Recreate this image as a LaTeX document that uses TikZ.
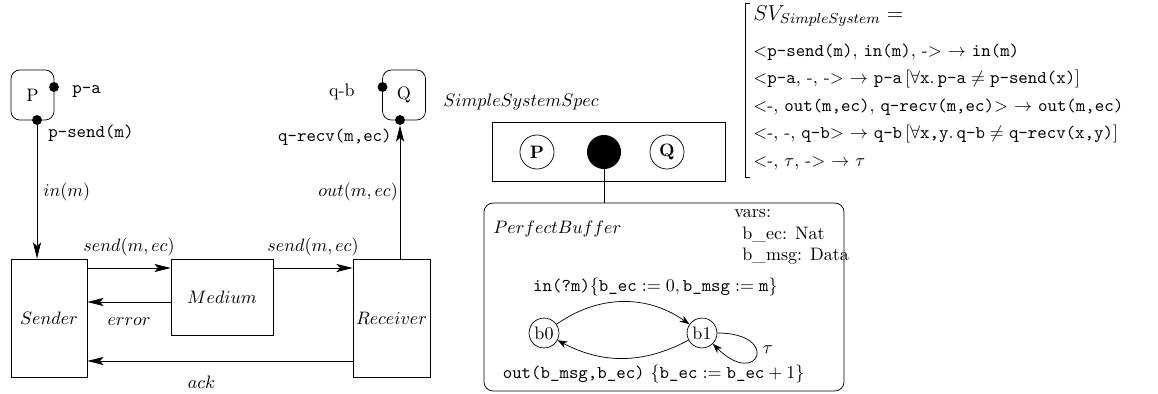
\documentclass[tikz,border=0pt]{standalone}
\usepackage{amsmath}
\usetikzlibrary{positioning,arrows.meta}

\tikzset{
    box/.style={draw, inner sep=0pt},
    proc/.style={draw, rounded corners=5pt,
        minimum width=23.9pt, minimum height=27.8pt},
    port/.style={circle, fill, inner sep=0pt, minimum size=5.5pt},
    comp/.style={circle, draw, inner sep=0pt, minimum size=18.9pt, font=\bfseries},
    bstate/.style={circle, draw, inner sep=0pt, minimum size=16.6pt},
    flow/.style={-{Stealth[length=9pt,width=4.5pt,inset=2pt]}},
    trans/.style={-{Stealth[length=5.5pt,width=4pt]}},
    eq/.style={anchor=base west, inner sep=0pt},
}

\begin{document}
\begin{tikzpicture}[x=0.555pt,y=0.555pt]
\useasboundingbox (0,0) rectangle (1158,-394);

% processes and their ports
\node [proc] (P) at (32.5,-95) {P};
\node [proc] (Q) at (404,-95) {Q};
\node [port] (pa) at (54,-87) {};
\node [port] (psend) at (37,-120) {};
\node [port] (qb) at (382.5,-87) {};
\node [port] (qrecv) at (400,-120) {};
\node [anchor=west, font=\ttfamily] (palab) at (66,-92) {p-a};
\node [anchor=west, font=\ttfamily] (psendlab) at (42,-133) {p-send(m)};
\node [anchor=east] (qblab) at (361,-92) {q-b};
\node [anchor=east, font=\ttfamily] (qrecvlab) at (398,-137) {q-recv(m,ec)};

% system
\node [box, minimum width=42.2pt, minimum height=65.5pt] (sender) at (49,-318) {$Sender$};
\node [box, minimum width=56.6pt, minimum height=42.2pt] (medium) at (222,-297) {$Medium$};
\node [box, minimum width=42.7pt, minimum height=65.5pt] (receiver) at (391.5,-318) {$Receiver$};

\draw[flow] (psend) -- (psend |- sender.north)
    node[midway,right]{$in(m)$};
\draw[flow] (qrecv |- receiver.north) -- (qrecv)
    node[midway,left,inner sep=1pt]{$out(m,ec)$};
\draw[flow] (sender.east |- 0,-268) -- (medium.west |- 0,-268)
    node[midway,above=3pt]{$send(m,ec)$};
\draw[flow] (medium.east |- 0,-268) -- (receiver.west |- 0,-268)
    node[midway,above=3pt]{$send(m,ec)$};
\draw[flow] (medium.west |- 0,-302) -- (sender.east |- 0,-302)
    node[midway,below=5pt]{$error$};
\draw[flow] (receiver.west |- 0,-361) -- (sender.east |- 0,-361)
    node[pos=0.57,below=5pt]{$ack$};

% specification
\node [anchor=west] (speclab) at (437,-102) {$SimpleSystemSpec$};
\node [box, minimum width=129.3pt, minimum height=32.7pt] (spec) at (608.5,-151.5) {};
\node [comp] (cp) at (537,-152) {P};
\node [circle, fill, inner sep=0pt, minimum size=18.9pt] (hub) at (604,-152) {};
\node [comp] (cq) at (667,-152) {Q};

\node [draw, rounded corners=5pt, minimum width=199.8pt, minimum height=104.3pt] (buffer) at (664,-297) {};
\draw (hub) -- (hub |- buffer.north);
\node [anchor=west] (buflab) at (487,-229) {$PerfectBuffer$};
\node [anchor=north west, align=left, inner sep=0pt] (vars) at (734,-209)
    {vars:\\\hspace*{4.5pt}b\_ec: Nat\\\hspace*{4.5pt}b\_msg: Data};

\node [bstate] (b0) at (544,-333) {b0};
\node [bstate] (b1) at (702,-333) {b1};
\draw[trans] (b0) to[bend left=35]
    node[midway,above,xshift=18pt]{\texttt{in(?m)}$\{\texttt{b\_ec}:=0,\texttt{b\_msg}:=\texttt{m}\}$} (b1);
\draw[trans] (b1) to[bend left=28]
    node[midway,below,xshift=17pt]{\texttt{out(b\_msg,b\_ec)} $\{\texttt{b\_ec}:=\texttt{b\_ec}+1\}$} (b0);
\draw[trans] (b1) to[out=0,in=-45,looseness=14]
    node[pos=0.4,right]{$\tau$} (b1);

% view
\draw (750,-3) -- (745,-3) -- (745,-177) -- (750,-177);
\node [eq] (sv) at (753,-20) {\large $SV_{SimpleSystem} =$};
\node [eq] (r1) at (753,-56) {$<$\texttt{p-send(m)}, \texttt{in(m)}, -$>$ $\rightarrow$ \texttt{in(m)}};
\node [eq] (r2) at (753,-83.5) {$<$\texttt{p-a}, -, -$>$ $\rightarrow$ \texttt{p-a}$\,[\forall\texttt{x}.\,\texttt{p-a}\neq\texttt{p-send(x)}]$};
\node [eq] (r3) at (753,-111) {$<$-, \texttt{out(m,ec)}, \texttt{q-recv(m,ec)}$>$ $\rightarrow$ \texttt{out(m,ec)}};
\node [eq] (r4) at (753,-138.5) {$<$-, -, \texttt{q-b}$>$ $\rightarrow$ \texttt{q-b}$\,[\forall\texttt{x,y}.\,\texttt{q-b}\neq\texttt{q-recv(x,y)}]$};
\node [eq] (r5) at (753,-166) {$<$-, $\tau$, -$>$ $\rightarrow$ $\tau$};
\end{tikzpicture}
\end{document}
